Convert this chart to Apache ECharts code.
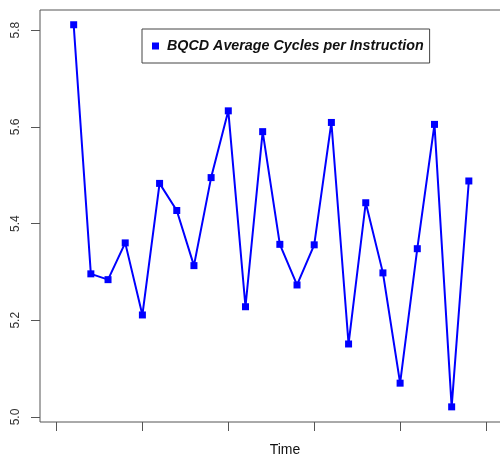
<!DOCTYPE html>
<html>
<head>
<meta charset="utf-8">
<script src="https://cdn.jsdelivr.net/npm/echarts@6/dist/echarts.min.js"></script>
<style>
  html, body { margin: 0; padding: 0; background: #fff; }
  #chart { width: 500px; height: 455px; }
</style>
</head>
<body>
<div id="chart"></div>
<script>
// Data
const seriesName = 'BQCD Average Cycles per Instruction';
const timeIndex = [1, 2, 3, 4, 5, 6, 7, 8, 9, 10, 11, 12, 13, 14, 15, 16, 17, 18, 19, 20, 21, 22, 23, 24];
const cpiValues = [5.811, 5.296, 5.284, 5.360, 5.211, 5.483, 5.427, 5.313, 5.495, 5.633, 5.228, 5.590,
                   5.357, 5.273, 5.356, 5.609, 5.151, 5.443, 5.298, 5.070, 5.348, 5.605, 5.021, 5.488];
const xTickValues = [0, 5, 10, 15, 20, 25];
const yTickValues = [5.0, 5.2, 5.4, 5.6, 5.8];
const xAxisTitle = 'Time';

const points = timeIndex.map((t, i) => [t, cpiValues[i]]);
const fontFam = '"Liberation Sans", Arial, Helvetica, sans-serif';

const chart = echarts.init(document.getElementById('chart'), null, { renderer: 'canvas' });
chart.setOption({
  animation: false,
  backgroundColor: '#ffffff',
  grid: {
    left: 40, top: 10, width: 490, height: 412,
    outerBoundsMode: 'none',
    containLabel: false,
    show: true, borderColor: '#555', borderWidth: 1, backgroundColor: 'transparent'
  },
  legend: {
    left: 142, top: 29,
    data: [seriesName],
    icon: 'rect',
    itemWidth: 7, itemHeight: 7,
    borderColor: '#444', borderWidth: 1,
    padding: [10, 6, 10, 10],
    textStyle: {
      fontFamily: fontFam, fontWeight: 'bold', fontStyle: 'italic',
      fontSize: 14.3, color: '#111', padding: [0, 0, 0, 3]
    }
  },
  xAxis: {
    type: 'value',
    min: -0.96, max: 27.56,
    name: xAxisTitle,
    nameLocation: 'middle',
    nameGap: 21,
    nameTextStyle: { fontFamily: fontFam, fontSize: 14, color: '#111' },
    axisLine: { show: false, onZero: false },
    axisTick: { show: true, length: 9, customValues: xTickValues, lineStyle: { color: '#555', width: 1 } },
    axisLabel: { show: false },
    splitLine: { show: false }
  },
  yAxis: {
    type: 'value',
    min: 4.9897, max: 5.8415,
    axisLine: { show: false, onZero: false },
    axisTick: { show: true, length: 9, customValues: yTickValues, lineStyle: { color: '#555', width: 1 } },
    axisLabel: {
      show: true, rotate: 90, margin: 18,
      customValues: yTickValues,
      formatter: v => Number(v).toFixed(1),
      fontFamily: fontFam, fontSize: 12, color: '#333'
    },
    splitLine: { show: false }
  },
  series: [{
    name: seriesName,
    type: 'line',
    data: points,
    symbol: 'rect',
    symbolSize: 7,
    showSymbol: true,
    lineStyle: { color: '#0000ff', width: 2 },
    itemStyle: { color: '#0000ff' }
  }]
});
</script>
</body>
</html>
